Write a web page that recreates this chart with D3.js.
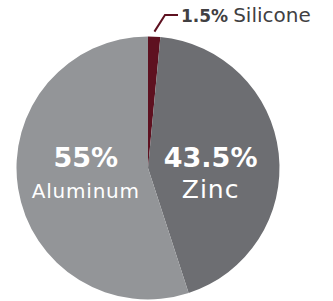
<!DOCTYPE html>
<meta charset="utf-8">
<title>Alloy composition</title>
<style>
body {
  margin: 0px;
  background: #fff;
}
text {
  font-family: "DejaVu Sans", sans-serif;
}
</style>
<script src="https://d3js.org/d3.v7.min.js"></script>
<body>
<script>
var width = 333, height = 301;

// data
var names = ["Silicone", "Zinc", "Aluminum"];
var values = [1.5, 43.5, 55];
var labels = ["1.5%", "43.5%", "55%"];
var colors = ["#5e1120", "#6d6e72", "#939598"];

var cx = 148, cy = 168, radius = 131.5;

var svg = d3.select("body").append("svg")
    .attr("width", width)
    .attr("height", height);

var g = svg.append("g")
    .attr("transform", "translate(" + [cx, cy] + ")");

var pie = d3.pie().sort(null).value(function(d) { return d; });
var arcs = pie(values);

var arc = d3.arc().innerRadius(0).outerRadius(radius);
var labelArc = d3.arc().innerRadius(63).outerRadius(63);

g.selectAll("path")
    .data(arcs)
  .enter().append("path")
    .attr("d", arc)
    .attr("fill", function(d, i) { return colors[i]; });

// big slices: label inside
var inside = g.selectAll(".inside")
    .data(arcs.filter(function(d) { return d.index > 0; }))
  .enter().append("g")
    .attr("class", "inside")
    .attr("transform", function(d) { return "translate(" + labelArc.centroid(d)[0] + ",0)"; });

inside.append("text")
    .attr("y", -1)
    .attr("text-anchor", "middle")
    .attr("fill", "#fff")
    .style("font-weight", "bold")
    .style("font-size", "27px")
    .text(function(d) { return labels[d.index]; });

// zinc name is set a bit bigger than aluminum in the original
inside.append("text")
    .attr("y", 30)
    .attr("text-anchor", "middle")
    .attr("fill", "#fff")
    .style("font-size", function(d) { return d.index == 1 ? "25px" : "20px"; })
    .style("letter-spacing", function(d) { return d.index == 1 ? "1px" : "0.8px"; })
    .text(function(d) { return names[d.index]; });

// small slice: leader line and outside label
var small = arcs[0];
var mid = (small.startAngle + small.endAngle) / 2;
var p0 = [Math.sin(mid) * (radius + 5), -Math.cos(mid) * (radius + 5)];
var elbow = [165 - cx, 15 - cy];
var end = [178 - cx, 15 - cy];

g.append("polyline")
    .attr("points", [p0, elbow, end].map(function(p) { return p.join(","); }).join(" "))
    .attr("fill", "none")
    .attr("stroke", colors[0])
    .attr("stroke-width", 2);

var outLabel = g.append("text")
    .attr("x", 181 - cx)
    .attr("y", 22 - cy)
    .attr("fill", "#414042");
outLabel.append("tspan")
    .style("font-weight", "bold")
    .style("font-size", "17px")
    .text(labels[0]);
outLabel.append("tspan")
    .attr("dx", 5)
    .style("font-size", "20px")
    .text(names[0]);
</script>
